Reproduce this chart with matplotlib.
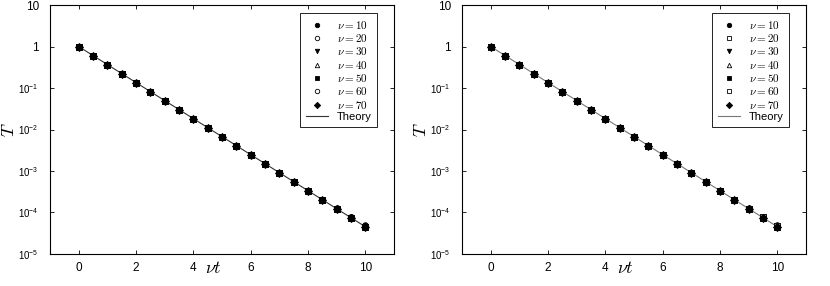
import numpy as np
from matplotlib import pyplot as plt

plt.rcParams['font.family'] = ['Liberation Sans', 'DejaVu Sans']
plt.rcParams['mathtext.fontset'] = 'custom'
plt.rcParams['mathtext.rm'] = 'Liberation Sans'
plt.rcParams['mathtext.it'] = 'Liberation Sans:italic'

# data
nu_t = [0, 0.5, 1, 1.5, 2, 2.5, 3, 3.5, 4, 4.5, 5, 5.5, 6, 6.5, 7, 7.5, 8, 8.5, 9, 9.5, 10]
T_base = [1.0, 0.607, 0.368, 0.223, 0.135, 0.0821, 0.0498, 0.0302, 0.0183, 0.0111,
          0.00674, 0.00409, 0.00248, 0.00150, 0.000912, 0.000553, 0.000335,
          0.000203, 0.000123, 7.49e-5, 4.54e-5]
T_nu10 = T_base[:18] + [0.000131, 8.0e-5, 5.0e-5]
T_nu20 = T_base[:19] + [7.7e-5, 4.8e-5]
T_nu30 = T_base
T_nu40 = T_base[:19] + [7.2e-5, 4.4e-5]
T_nu50 = T_base
T_nu60 = T_base[:19] + [7.6e-5, 4.7e-5]
T_nu70 = T_base
theory_t = [0, 10]
theory_T = [1.0, 4.54e-5]

nu_labels = [r'$\nu = 10$', r'$\nu = 20$', r'$\nu = 30$', r'$\nu = 40$',
             r'$\nu = 50$', r'$\nu = 60$', r'$\nu = 70$']
series = [T_nu10, T_nu20, T_nu30, T_nu40, T_nu50, T_nu60, T_nu70]

ytick_vals = [1e-5, 1e-4, 1e-3, 1e-2, 1e-1, 1, 10]
ytick_labels = [r'$\mathregular{10^{-5}}$', r'$\mathregular{10^{-4}}$', r'$\mathregular{10^{-3}}$',
                r'$\mathregular{10^{-2}}$', r'$\mathregular{10^{-1}}$', '1', '10']
xtick_vals = [0, 2, 4, 6, 8, 10]

# (marker, filled) per series for each panel
styles_left = [('o', True), ('o', False), ('v', True), ('^', False),
               ('s', True), ('o', False), ('D', True)]
styles_right = [('o', True), ('s', False), ('v', True), ('^', False),
                ('s', True), ('s', False), ('D', True)]

fig = plt.figure(figsize=(8.3, 2.86), dpi=100)
ax1 = fig.add_axes([0.0602, 0.1119, 0.4145, 0.8706])
ax2 = fig.add_axes([0.5566, 0.1119, 0.4145, 0.8706])


def draw_panel(ax, styles, theory_color):
    ax.plot(theory_t, theory_T, color=theory_color, linewidth=0.8, zorder=1)
    handles = []
    for vals, lab, (mk, filled) in zip(series, nu_labels, styles):
        ax.plot(nu_t, vals, linestyle='none', marker=mk, markersize=4,
                markerfacecolor='black' if filled else 'white',
                markeredgecolor='black', markeredgewidth=0.6, zorder=2)
        h, = ax.plot([], [], linestyle='none', marker=mk, markersize=3.2,
                     markerfacecolor='black' if filled else 'white',
                     markeredgecolor='black', markeredgewidth=0.6, label=lab)
        handles.append(h)
    # filled circles end up on top in the picture
    ax.plot(nu_t, T_base, linestyle='none', marker='o', markersize=4.2,
            color='black', zorder=3)
    th, = ax.plot([], [], color=theory_color, linewidth=0.8, label='Theory')
    handles.append(th)

    ax.set_yscale('log')
    ax.set_xlim(-1, 11)
    ax.set_ylim(1e-5, 10)
    ax.set_xticks(xtick_vals)
    ax.set_xticklabels([str(v) for v in xtick_vals])
    ax.set_yticks(ytick_vals)
    ax.set_yticklabels(ytick_labels)
    ax.minorticks_off()
    ax.tick_params(direction='in', length=3, width=0.6, top=True, right=True,
                   labelsize=8.5)
    ax.tick_params(axis='x', pad=6)
    ax.tick_params(axis='y', pad=8)
    for lbl in ax.get_yticklabels():
        if '^' in lbl.get_text():
            lbl.set_fontsize(7)
    for sp in ax.spines.values():
        sp.set_linewidth(0.8)

    ax.set_xlabel(r'$\nu t$', fontsize=13, math_fontfamily='cm')
    ax.xaxis.set_label_coords(0.474, -0.025)
    ax.xaxis.label.set_va('top')
    ax.set_ylabel(r'$T$', fontsize=13, math_fontfamily='cm')
    ax.yaxis.set_label_coords(-0.092, 0.5)

    leg = ax.legend(handles=handles, loc='upper right', bbox_to_anchor=(0.951, 0.968),
                    borderaxespad=0, fontsize=8, labelspacing=0.12, handlelength=2.0,
                    handletextpad=0.8, borderpad=0.5, fancybox=False, framealpha=1,
                    edgecolor='black')
    leg.get_frame().set_linewidth(0.6)
    for t in leg.get_texts():
        t.set_math_fontfamily('cm')


draw_panel(ax1, styles_left, '#333333')
draw_panel(ax2, styles_right, '#777777')

fig.savefig('out.png', dpi=100)
